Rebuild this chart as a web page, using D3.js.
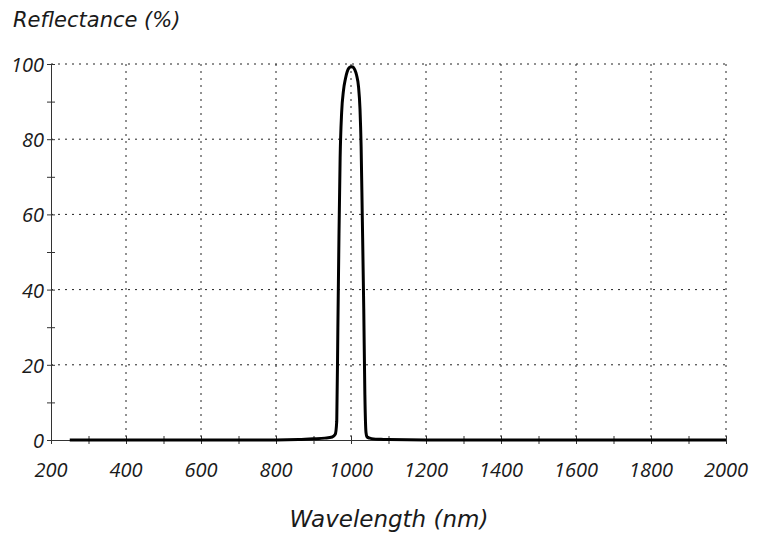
<!DOCTYPE html>
<html><head><meta charset="utf-8">
<script src="https://cdn.jsdelivr.net/npm/d3@7"></script>
<style>body{margin:0;background:#fff}text{font-style:italic;fill:#1a1a1a}</style>
</head><body><svg id="c" width="757" height="533"></svg>
<script>
const wavelength = [250,300,400,500,550,600,700,800,860,900,930,950,958,962,965,968,971,975,980,985,990,995,1000,1005,1010,1015,1020,1024,1027,1030,1034,1037,1040,1043,1050,1060,1080,1100,1200,1400,1600,1800,2000];
const reflectance = [0,0,0,0,0,0,0,0,0.1,0.3,0.5,0.8,1.5,5,30,55,75,87,93,96,98,99,99.3,99.2,98.5,97,94,88,78,60,35,12,2,0.8,0.5,0.3,0.2,0.1,0,0,0,0,0];
const xTicks = [200,400,600,800,1000,1200,1400,1600,1800,2000];
const yTicks = [0,20,40,60,80,100];
const xMinor = d3.range(200,2001,100);
const yMinor = d3.range(0,101,10);

const svg = d3.select("#c");
const x = d3.scaleLinear().domain([200,2000]).range([51,726]);
const y = d3.scaleLinear().domain([0,100]).range([440,64]);

// grid
svg.append("g").selectAll("line").data(xTicks.slice(1)).join("line")
  .attr("x1",d=>x(d)).attr("x2",d=>x(d)).attr("y1",y(100)).attr("y2",y(0))
  .attr("stroke","#222").attr("stroke-width",1).attr("stroke-dasharray","2,5");
svg.append("g").selectAll("line").data(yTicks.slice(1)).join("line")
  .attr("x1",x(200)).attr("x2",x(2000)).attr("y1",d=>y(d)).attr("y2",d=>y(d))
  .attr("stroke","#222").attr("stroke-width",1).attr("stroke-dasharray","2,5");

// axes
const xAxis = svg.append("g").attr("transform",`translate(0,${y(0)})`)
  .call(d3.axisBottom(x).tickValues(xMinor).tickSize(4).tickFormat(""));
xAxis.selectAll(".tick line").attr("y1",-4).attr("stroke","#333");
xAxis.select(".domain").attr("stroke","#333");
const yAxis = svg.append("g").attr("transform",`translate(${x(200)},0)`)
  .call(d3.axisLeft(y).tickValues(yMinor).tickSize(4).tickFormat(""));
yAxis.selectAll(".tick line").attr("x1",4).attr("stroke","#333");
yAxis.select(".domain").attr("stroke","#333");

// labels
const numFont = "'Open Sans', sans-serif";
const titleFont = "'DejaVu Sans', sans-serif";
svg.append("g").selectAll("text").data(xTicks).join("text")
  .attr("x",d=>x(d)).attr("y",477).attr("text-anchor","middle")
  .attr("font-family",numFont).attr("font-style","italic").attr("font-size",20).text(d=>d);
svg.append("g").selectAll("text").data(yTicks).join("text")
  .attr("x",44).attr("y",d=>y(d)+8).attr("text-anchor","end")
  .attr("font-family",numFont).attr("font-style","italic").attr("font-size",20).text(d=>d);
svg.append("text").attr("x",13).attr("y",27).attr("font-family",titleFont).attr("font-size",21).text("Reflectance (%)");
svg.append("text").attr("x",389).attr("y",527).attr("text-anchor","middle").attr("font-family",titleFont).attr("font-size",23).text("Wavelength (nm)");

// curve
const data = wavelength.map((w,i)=>[w,reflectance[i]]);
svg.append("path").datum(data)
  .attr("d",d3.line().x(d=>x(d[0])).y(d=>y(d[1])).curve(d3.curveMonotoneX))
  .attr("fill","none").attr("stroke","#000").attr("stroke-width",3).attr("stroke-linejoin","round");
</script></body></html>
